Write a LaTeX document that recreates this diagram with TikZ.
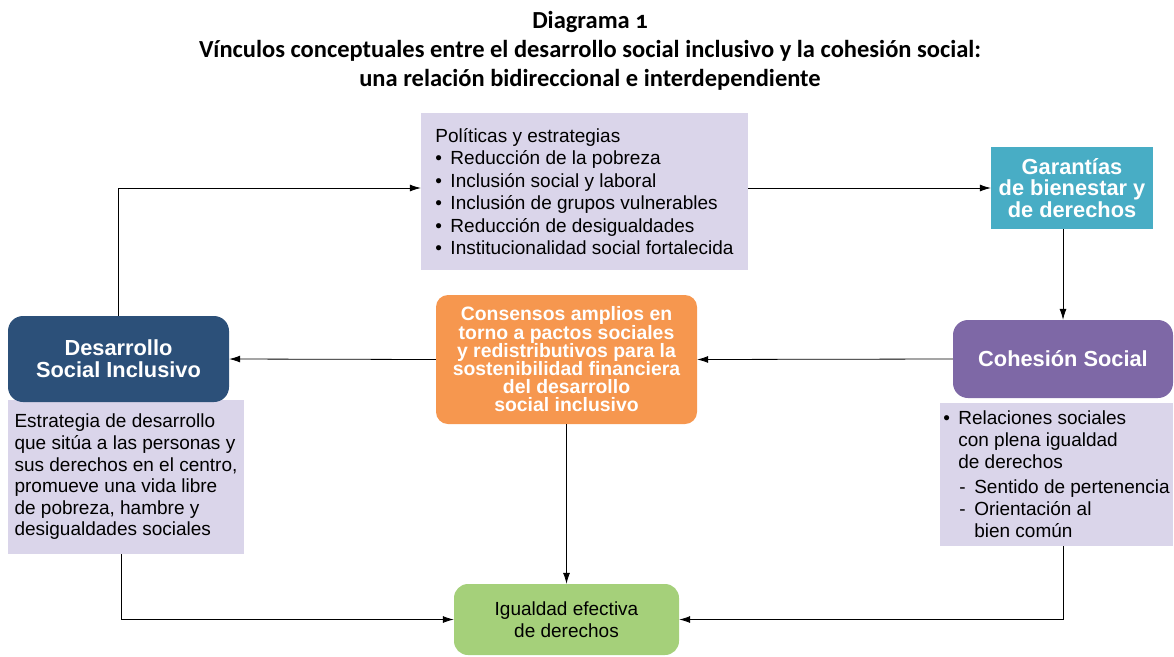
\documentclass[tikz,border=0pt]{standalone}
\usepackage{fontspec}
\setmainfont{Liberation Sans}
\newfontfamily\titlefont[Numbers=OldStyle]{Carlito}
\usepackage{tikz}
\usetikzlibrary{arrows.meta}

\definecolor{lila}{RGB}{218,213,234}
\definecolor{turquesa}{RGB}{72,173,197}
\definecolor{morado}{RGB}{126,104,166}
\definecolor{azul}{RGB}{44,80,121}
\definecolor{naranja}{RGB}{246,151,79}
\definecolor{verde}{RGB}{165,208,122}

\newcommand{\bul}{\makebox[15pt][l]{\textbullet}}
\newcommand{\gui}{\makebox[15pt][l]{-}}

\begin{document}
\begin{tikzpicture}[x=1pt,y=-1pt,
  caja/.style={fill=lila,inner sep=0pt,align=left,font=\fontsize{19}{22}\selectfont},
  titulo/.style={text=white,align=center,inner sep=0pt,font=\bfseries\fontsize{21.8}{21.7}\selectfont},
  flecha/.style={-{Latex[length=11pt,width=7pt]},line width=0.8pt}]
\useasboundingbox (0,0) rectangle (1174,656);

 \draw (590,51) node[align=center,font=\titlefont\bfseries\fontsize{24.5}{29}\selectfont] (title)
   {Diagrama 1\\V\'inculos conceptuales entre el desarrollo social inclusivo y la cohesi\'on social:\\una relaci\'on bidireccional e interdependiente};

 \draw (584.5,191.5) node[caja,minimum width=327pt,minimum height=157pt,
   font=\fontsize{19}{22.4}\selectfont] (pol)
   {Pol\'iticas y estrategias\\
    \bul Reducci\'on de la pobreza\\
    \bul Inclusi\'on social y laboral\\
    \bul Inclusi\'on de grupos vulnerables\\
    \bul Reducci\'on de desigualdades\\
    \bul Institucionalidad social fortalecida};
 \draw (1072,188) node[titulo,fill=turquesa,minimum width=162pt,minimum height=82pt] (gar)
   {Garant\'ias\\de bienestar y\\de derechos};

 % columna derecha
 \draw (1056.5,474.5) node[caja,minimum width=233pt,minimum height=143pt] (cohtxt)
   {\bul Relaciones sociales\\
    \hspace*{15pt}con plena igualdad\\
    \hspace*{15pt}de derechos\\[3pt]
    \hspace*{16pt}\gui Sentido de pertenencia\\
    \hspace*{16pt}\gui Orientaci\'on al\\
    \hspace*{31pt}bien com\'un};
 \draw (1063,359) node[titulo,fill=morado,rounded corners=15pt,minimum width=220pt,minimum height=78pt] (coh)
   {Cohesi\'on Social};

 % columna izquierda
 \draw (126,477) node[caja,minimum width=236pt,minimum height=154pt,
   font=\fontsize{19}{21.6}\selectfont] (destxt)
   {Estrategia de desarrollo\\
    que sit\'ua a las personas y\\
    sus derechos en el centro,\\
    promueve una vida libre\\
    de pobreza, hambre y\\
    desigualdades sociales};
 \draw (118.5,359) node[titulo,fill=azul,rounded corners=15pt,minimum width=221pt,minimum height=86pt] (des)
   {Desarrollo\\Social Inclusivo};

 % centro
 \draw (566.5,359.5) node[titulo,fill=naranja,rounded corners=12pt,minimum width=261pt,minimum height=129pt,
   font=\bfseries\fontsize{19.4}{18.2}\selectfont] (ori)
   {Consensos amplios en\\torno a pactos sociales\\y redistributivos para la\\sostenibilidad financiera\\del desarrollo\\social inclusivo};
 \draw (566.5,619.5) node[fill=verde,rounded corners=14pt,minimum width=225pt,minimum height=71pt,align=center,
   font=\fontsize{19}{22}\selectfont] (igu)
   {Igualdad efectiva\\de derechos};

 \draw[flecha] (des.north) |- (pol.west |- gar.west);
 \draw[flecha] (pol.east |- gar.west) -- (gar.west);
 \draw[flecha] (gar.south -| coh.north) -- (coh.north);
 \path[flecha] (coh.west) edge (ori.east);
 \path[flecha] (ori.west) edge (des.east);
 \path[flecha] (ori.south) edge (igu.north);
 \draw[flecha] ([xshift=-5pt]destxt.south) |- (igu.west);
 \draw[flecha] (cohtxt.south -| coh.south) |- (igu.east);

\end{tikzpicture}
\end{document}
